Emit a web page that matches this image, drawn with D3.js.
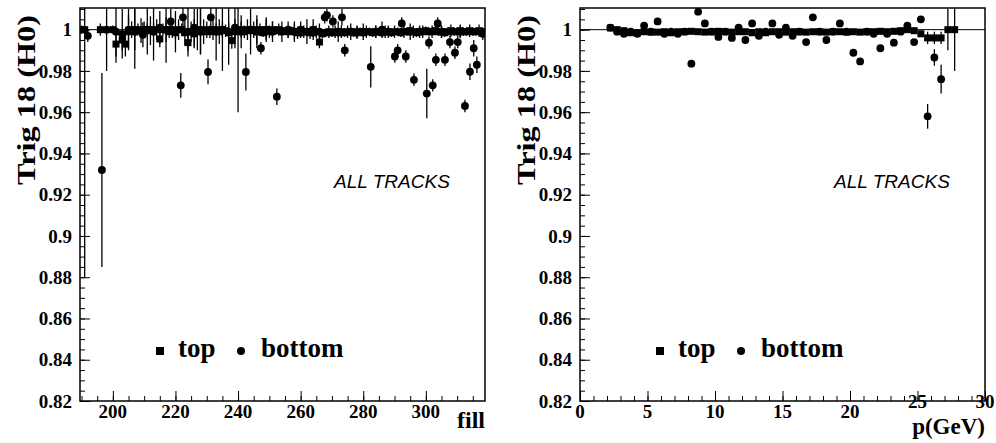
<!DOCTYPE html>
<html><head><meta charset="utf-8">
<script src="https://cdn.jsdelivr.net/npm/d3@7"></script>
<style>
body{margin:0;background:#fff}
svg{display:block}
text{font-family:"Liberation Serif","Times New Roman",serif;font-weight:bold;fill:#000}
</style>
</head><body>
<svg id="c" width="996" height="443"></svg>
<script>
// ---------- tick labels ----------
const yTicks = [0.82,0.84,0.86,0.88,0.9,0.92,0.94,0.96,0.98,1];
const yTickLabels = ["0.82","0.84","0.86","0.88","0.9","0.92","0.94","0.96","0.98","1"];
const fillTicks = [200,220,240,260,280,300];
const pTicks = [0,5,10,15,20,25,30];

// ---------- left panel: vs fill ----------
const fillTop = [190,191,196,200,201,203,204,205,206,207,208,209,210,211,212,213,214,215,216,217,218,219,220,221,222,223,224,225,226,227,228,229,230,231,232,233,234,235,236,237,238,239,240,241,242,243,244,245,246,247,248,249,250,251,252,253,254,256,257,258,259,260,261,262,263,264,265,266,267,268,269,270,271,272,273,274,275,276,277,278,279,280,281,282,283,284,285,286,287,288,289,290,291,292,293,294,295,296,297,298,299,300,301,302,303,304,305,306,307,308,309,310,311,312,313,314,315,316,317,318];
const valTop = [1.0,1.0,1.0,1.0,0.993,0.995,0.993,0.999,1.0,1.0,1.0,0.9995,1.0,1.0,0.9995,1.0,1.0,0.9955,1.0,1.0,0.999,1.0,0.9985,1.0,1.0,0.9985,0.9937,0.999,0.998,1.0,1.0,0.999,1.0,0.999,1.0,1.0,0.999,1.0,0.9995,0.9985,0.9947,0.999,1.0,1.0,0.999,1.0,0.9995,1.0,0.999,1.0,0.9985,1.0,0.999,1.0,0.9995,1.0,0.9995,0.999,0.9995,0.999,0.9985,0.9985,0.999,0.999,0.9985,0.9985,0.999,0.994,0.998,0.9985,0.999,0.9985,0.999,0.9985,0.999,0.9985,0.999,0.999,0.9985,0.999,0.999,0.9985,0.999,0.999,0.9985,0.999,0.999,0.9985,0.999,0.999,0.9985,0.999,0.999,0.9985,0.999,0.999,0.9995,0.999,0.9985,0.999,0.999,0.9995,0.999,0.999,0.9995,0.999,0.999,0.9985,0.999,0.9995,0.999,0.999,0.9995,0.999,0.999,0.9995,0.999,0.999,0.9995,0.999,0.9995];
const errTop = [0.002,0.12,0.003,0.002,0.006,0.005,0.006,0.008,0.004,0.01,0.003,0.006,0.004,0.003,0.007,0.003,0.005,0.004,0.003,0.006,0.003,0.004,0.003,0.005,0.003,0.006,0.004,0.005,0.007,0.01,0.012,0.006,0.004,0.003,0.005,0.003,0.006,0.004,0.003,0.005,0.004,0.006,0.04,0.004,0.003,0.005,0.003,0.004,0.006,0.003,0.002,0.005,0.003,0.004,0.002,0.003,0.002,0.003,0.002,0.004,0.003,0.002,0.003,0.002,0.003,0.002,0.003,0.003,0.002,0.002,0.003,0.002,0.003,0.002,0.003,0.002,0.003,0.002,0.002,0.003,0.002,0.002,0.003,0.002,0.002,0.003,0.002,0.002,0.003,0.002,0.002,0.003,0.002,0.002,0.003,0.002,0.002,0.003,0.002,0.002,0.003,0.002,0.002,0.003,0.002,0.002,0.003,0.002,0.002,0.003,0.002,0.002,0.003,0.002,0.002,0.003,0.002,0.002,0.003];

const fillBot = [192,196.5,198,201,203,205,207,209.6,211,213,215,217,218.5,220,221.7,222.4,224,226,228,230.4,231.3,233,235,237,239,241,242.5,244,246,247.3,249,251,252.4,254,256,258,260,262,264,266,267.7,268.4,270.3,272,273.2,274.1,276,278,280,282.4,284,286,288,290.1,291,292.3,293.6,295,296.2,298,300.3,301,302.2,303.2,303.8,305,306.1,307.7,309.3,310.2,311,312.5,314.1,315.3,316.3,318.2];
const valBot = [0.997,0.932,1.0,0.999,0.998,1.0,0.999,0.9975,1.0,0.999,1.001,1.0,1.004,0.999,0.973,1.006,0.999,1.001,0.999,0.9795,1.006,0.999,1.0,0.999,1.001,0.999,0.9795,1.0,0.999,0.991,1.0,0.999,0.9675,0.999,1.0,0.999,1.0,0.999,1.0,0.999,1.006,1.007,1.004,0.999,1.006,0.990,0.999,0.9985,0.999,0.982,0.999,1.0,0.999,0.987,0.990,1.003,0.987,0.999,0.9757,0.999,0.969,0.9937,0.973,0.9854,1.003,0.999,0.9854,0.994,0.9888,0.994,0.999,0.963,0.9796,0.991,0.983,0.998];
const errBot = [0.003,0.047,0.02,0.015,0.012,0.01,0.018,0.006,0.012,0.014,0.008,0.016,0.006,0.01,0.006,0.006,0.012,0.009,0.011,0.006,0.006,0.014,0.02,0.016,0.01,0.008,0.009,0.012,0.008,0.003,0.006,0.005,0.004,0.005,0.004,0.005,0.004,0.006,0.005,0.004,0.003,0.003,0.003,0.005,0.004,0.003,0.004,0.003,0.004,0.01,0.003,0.004,0.003,0.003,0.003,0.003,0.003,0.004,0.003,0.003,0.012,0.003,0.003,0.003,0.003,0.003,0.003,0.003,0.003,0.003,0.003,0.003,0.004,0.004,0.004,0.003];

// ---------- right panel: vs p (GeV) ----------
const pTop = [2.25,2.75,3.25,3.75,4.25,4.75,5.25,5.75,6.25,6.75,7.25,7.75,8.25,8.75,9.25,9.75,10.25,10.75,11.25,11.75,12.25,12.75,13.25,13.75,14.25,14.75,15.25,15.75,16.25,16.75,17.25,17.75,18.25,18.75,19.25,19.75,20.25,20.75,21.25,21.75,22.25,22.75,23.25,23.75,24.25,24.75,25.25,25.75,26.25,26.75,27.25,27.75];
const pValTop = [1.0008,1.0,0.9995,0.9985,0.9985,0.999,0.9988,0.9988,0.999,0.9985,0.999,0.999,0.9992,0.999,0.9988,0.999,0.9992,0.999,0.9988,0.999,0.999,0.9985,0.999,0.9985,0.999,0.999,0.9988,0.999,0.999,0.9988,0.999,0.999,0.9988,0.999,0.999,0.9988,0.999,0.9988,0.999,0.999,0.9992,0.999,0.9992,0.9995,1.0,0.9995,0.998,0.996,0.996,0.996,1.0,1.0];
const pErrTop = [0.001,0.001,0.001,0.0008,0.0008,0.0008,0.0008,0.0008,0.0008,0.0008,0.0008,0.0008,0.0008,0.0008,0.0008,0.0008,0.0008,0.0008,0.0008,0.0008,0.0008,0.0008,0.0008,0.0008,0.0008,0.0008,0.0008,0.0008,0.0008,0.0008,0.0008,0.0008,0.0008,0.0008,0.0008,0.0008,0.0008,0.0008,0.0008,0.0008,0.0008,0.0008,0.001,0.001,0.001,0.001,0.0015,0.003,0.003,0.003,0.01,0.02];

const pBot = [2.25,2.75,3.25,3.75,4.25,4.75,5.25,5.75,6.25,6.75,7.25,7.75,8.25,8.75,9.25,9.75,10.25,10.75,11.25,11.75,12.25,12.75,13.25,13.75,14.25,14.75,15.25,15.75,16.25,16.75,17.25,17.75,18.25,18.75,19.25,19.75,20.25,20.75,21.25,21.75,22.25,22.75,23.25,23.75,24.25,24.75,25.25,25.75,26.25,26.75];
const pValBot = [1.001,0.999,0.998,0.999,0.998,1.002,0.999,1.004,0.998,0.999,0.998,0.999,0.9835,1.0087,1.003,0.999,0.9965,0.999,0.996,1.001,0.995,1.003,0.997,0.999,1.003,0.9975,1.001,0.997,0.999,0.994,1.006,0.999,0.995,0.999,1.003,0.999,0.9888,0.9846,0.999,0.998,0.991,0.998,0.9937,0.999,1.002,0.994,1.005,0.958,0.9865,0.976];
const pErrBot = [0.001,0.001,0.001,0.001,0.001,0.001,0.001,0.001,0.001,0.001,0.001,0.001,0.0012,0.0012,0.001,0.001,0.001,0.001,0.001,0.001,0.001,0.001,0.001,0.001,0.001,0.001,0.001,0.001,0.001,0.001,0.001,0.001,0.001,0.001,0.001,0.001,0.001,0.001,0.001,0.001,0.001,0.001,0.001,0.001,0.0012,0.0012,0.0015,0.006,0.004,0.007];

const yTitle = "Trig 18 (H0)";
const panelNote = "ALL TRACKS";
const legendLabels = ["top", "bottom"];

// ---------- drawing ----------
const svg = d3.select("#c");
const yDomain = [0.82, 1.0105];
const plotTop = 8, plotBottom = 401;

function panel(opt) {
  const g = svg.append("g");
  const x = d3.scaleLinear().domain(opt.xDomain).range([opt.x0, opt.x1]);
  const y = d3.scaleLinear().domain(yDomain).range([plotBottom, plotTop]);
  const id = "clip" + opt.id;
  svg.append("clipPath").attr("id", id).append("rect")
    .attr("x", opt.x0).attr("y", plotTop).attr("width", opt.x1 - opt.x0).attr("height", plotBottom - plotTop);

  const plot = g.append("g").attr("clip-path", `url(#${id})`);
  plot.append("line").attr("x1", opt.x0).attr("x2", opt.x1)
    .attr("y1", y(1)).attr("y2", y(1)).attr("stroke", "#000").attr("stroke-width", 1);

  function series(xs, vs, es, shape) {
    const data = xs.map((d, i) => ({x: d, v: vs[i], e: es[i]}));
    plot.append("g").selectAll("line").data(data).join("line")
      .attr("x1", d => x(d.x)).attr("x2", d => x(d.x))
      .attr("y1", d => y(d.v - d.e)).attr("y2", d => y(d.v + d.e))
      .attr("stroke", "#000").attr("stroke-width", 1.3);
    if (shape === "square") {
      plot.append("g").selectAll("rect").data(data).join("rect")
        .attr("x", d => x(d.x) - 3.5).attr("y", d => y(d.v) - 3.5)
        .attr("width", 7).attr("height", 7).attr("fill", "#000");
    } else {
      plot.append("g").selectAll("circle").data(data).join("circle")
        .attr("cx", d => x(d.x)).attr("cy", d => y(d.v)).attr("r", 3.9).attr("fill", "#000");
    }
  }
  series(opt.topX, opt.topV, opt.topE, "square");
  series(opt.botX, opt.botV, opt.botE, "circle");

  const ax = g.append("g");
  ax.append("g").attr("transform", `translate(${opt.x0},0)`)
    .call(d3.axisLeft(y).tickValues(d3.range(0.82, 1.0101, 0.005)).tickSize(-5).tickFormat(""));
  ax.append("g").attr("transform", `translate(${opt.x0},0)`)
    .call(d3.axisLeft(y).tickValues(yTicks).tickSize(-10).tickFormat(""));
  ax.append("g").attr("transform", `translate(0,${plotBottom})`)
    .call(d3.axisBottom(x).tickValues(opt.minorX).tickSize(-5).tickFormat(""));
  ax.append("g").attr("transform", `translate(0,${plotBottom})`)
    .call(d3.axisBottom(x).tickValues(opt.xTicks).tickSize(-10).tickFormat(""));
  ax.selectAll(".domain").remove();
  ax.selectAll("line").attr("stroke", "#000").attr("stroke-width", 1);

  g.append("rect").attr("x", opt.x0).attr("y", plotTop).attr("width", opt.x1 - opt.x0)
    .attr("height", plotBottom - plotTop).attr("fill", "none").attr("stroke", "#000").attr("stroke-width", 1.5);

  g.append("g").selectAll("text").data(yTicks).join("text")
    .attr("x", opt.x0 - 8).attr("y", d => y(d)).attr("dy", "0.35em")
    .attr("text-anchor", "end").style("font-size", "19px")
    .text((d, i) => yTickLabels[i]);
  g.append("g").selectAll("text").data(opt.xTicks).join("text")
    .attr("x", d => x(d)).attr("y", d => 418 - (opt.raised.includes(d) ? 10 : 0))
    .attr("text-anchor", "middle").style("font-size", "19px")
    .text(d => d);
  g.append("text").attr("x", opt.x1).attr("y", opt.raised.length ? 434 : 428).attr("text-anchor", "end")
    .style("font-size", opt.raised.length ? "23px" : "24px").text(opt.xTitle);
  g.append("text").attr("transform", `translate(${opt.x0 - 45},${100}) rotate(-90)`)
    .attr("text-anchor", "middle").style("font-size", "26px")
    .attr("textLength", 170).attr("lengthAdjust", "spacingAndGlyphs").text(yTitle);
  g.append("text").attr("x", opt.x0 + 254).attr("y", 188)
    .style("font-family", "'Liberation Sans',Arial,sans-serif").style("font-weight", "normal")
    .style("font-style", "italic").style("font-size", "19px").text(panelNote);
  const lx = opt.x0 + 80, ly = 351;
  g.append("rect").attr("x", lx - 4).attr("y", ly - 4).attr("width", 8).attr("height", 8).attr("fill", "#000");
  g.append("text").attr("x", lx + 18).attr("y", 357).style("font-size", "27px").text(legendLabels[0]);
  g.append("circle").attr("cx", lx + 81).attr("cy", ly).attr("r", 4).attr("fill", "#000");
  g.append("text").attr("x", lx + 101).attr("y", 357).style("font-size", "27px").text(legendLabels[1]);
}

panel({id: "L", x0: 80, x1: 485, xDomain: [189.5, 318.9],
  xTicks: fillTicks, minorX: d3.range(190, 319, 5), raised: [], xTitle: "fill",
  topX: fillTop, topV: valTop, topE: errTop, botX: fillBot, botV: valBot, botE: errBot});
panel({id: "R", x0: 580, x1: 985, xDomain: [0, 30],
  xTicks: pTicks, minorX: d3.range(0, 30.01, 1), raised: [25, 30], xTitle: "p(GeV)",
  topX: pTop, topV: pValTop, topE: pErrTop, botX: pBot, botV: pValBot, botE: pErrBot});
</script>
</body></html>
